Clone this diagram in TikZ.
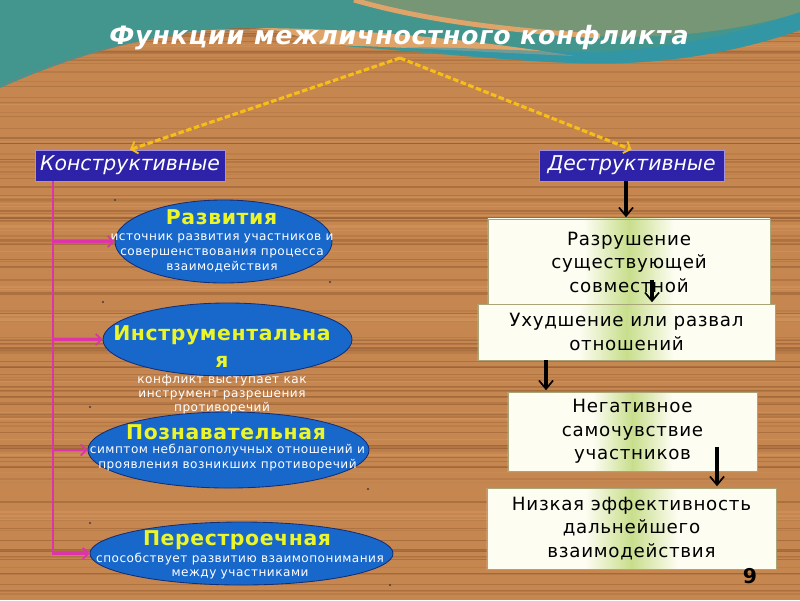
\documentclass[tikz,border=0pt]{standalone}
\usepackage{fontspec}
\setmainfont{DejaVu Sans}
\newfontfamily\spacedfont[LetterSpace=4]{DejaVu Sans}
\newfontfamily\titlefont[LetterSpace=3]{DejaVu Sans}
\usetikzlibrary{arrows.meta,shapes.geometric,shadows}

\definecolor{wood}{RGB}{198,134,80}
\definecolor{woodgrain}{RGB}{130,78,38}
\definecolor{woodlight}{RGB}{222,164,106}
\definecolor{sea}{RGB}{66,150,142}
\definecolor{seagrey}{RGB}{118,150,118}
\definecolor{seadeep}{RGB}{40,150,180}
\definecolor{headblue}{RGB}{46,34,168}
\definecolor{headrim}{RGB}{165,145,225}
\definecolor{ovalblue}{RGB}{24,104,204}
\definecolor{ovalrim}{RGB}{20,45,115}
\definecolor{ovaltitle}{RGB}{235,245,40}
\definecolor{pinkline}{RGB}{222,52,170}
\definecolor{dashyellow}{RGB}{245,190,25}
\definecolor{boxwhite}{RGB}{253,253,242}
\definecolor{boxgreen}{RGB}{200,222,140}
\definecolor{boxrim}{RGB}{170,165,120}

\pgfdeclarehorizontalshading{glow}{100bp}{color(0bp)=(boxwhite); color(25bp)=(boxwhite); color(42bp)=(boxwhite); color(50bp)=(boxgreen); color(58bp)=(boxwhite); color(75bp)=(boxwhite); color(100bp)=(boxwhite)}

\begin{document}
\begin{tikzpicture}[x=0.025cm, y=-0.025cm,
	head/.style={rectangle, fill=headblue, draw=headrim, line width=0.5pt, text=white, font=\itshape\fontsize{14.5}{17}\selectfont, minimum height=0.775cm, inner sep=0pt},
	oval/.style={ellipse, fill=ovalblue, draw=ovalrim, line width=0.6pt, inner sep=0pt},
	ovalname/.style={text=ovaltitle, font=\titlefont\bfseries\fontsize{14.5}{19.2}\selectfont, align=center, inner sep=0pt},
	ovaltext/.style={text=white, font=\spacedfont\fontsize{8.6}{10.7}\selectfont, align=center, inner sep=0pt},
	effect/.style={rectangle, shade, shading=glow, draw=boxrim, line width=0.5pt, drop shadow={opacity=0.25, shadow xshift=1pt, shadow yshift=-1pt}, align=center, font=\spacedfont\fontsize{13}{16.7}\selectfont, inner sep=0pt},
	hint/.style={dashyellow, line width=2.2pt, dash pattern=on 4pt off 1.8pt, -{Straight Barb[length=4pt,width=9pt,line width=1.3pt]}},
	branch/.style={pinkline, line width=2pt, -{Straight Barb[length=4pt,width=8pt,line width=1.2pt]}},
	chain/.style={black, line width=2.2pt, shorten >=1pt, -{Straight Barb[length=6pt,width=10pt,line width=1.2pt]}}]
	\useasboundingbox (0,0) rectangle (800,600);
	\fill[wood] (0,0) rectangle (800,600);
	\pgfmathsetseed{11}
	\foreach \i in {1,...,140} {
		\pgfmathsetmacro{\yy}{25+575*rnd}
		\pgfmathsetmacro{\ww}{0.3+1.3*rnd}
		\pgfmathsetmacro{\oo}{0.12+0.3*rnd}
		\draw[woodgrain, line width=\ww pt, opacity=\oo] (0,\yy) -- (800,\yy);
	}
	\foreach \i in {1,...,35} {
		\pgfmathsetmacro{\yy}{25+575*rnd}
		\pgfmathsetmacro{\ww}{0.5+1.5*rnd}
		\draw[woodlight, line width=\ww pt, opacity=0.3] (0,\yy) -- (800,\yy);
	}

	\fill[sea] (0,0) -- (800,0) -- (800,30) .. controls (730,55) and (650,66) .. (575,63) .. controls (480,59) and (400,50) .. (330,45) .. controls (300,40) and (290,29) .. (250,28) .. controls (170,28) and (80,52) .. (0,88) -- cycle;
	\fill[woodlight] (250,28) .. controls (340,28) and (450,36) .. (575,56) .. controls (480,52) and (400,47) .. (330,45) .. controls (300,40) and (290,29) .. (250,28);
	\fill[seadeep, opacity=0.6] (800,12) .. controls (720,40) and (650,52) .. (575,52) .. controls (500,50) and (440,46) .. (400,48) .. controls (470,55) and (520,62) .. (575,63) .. controls (650,66) and (730,55) .. (800,30) -- cycle;
	\fill[seagrey] (360,0) .. controls (420,18) and (500,30) .. (600,36) .. controls (680,40) and (760,26) .. (800,12) -- (800,0) -- cycle;
	\draw[woodlight, line width=3.5pt] (354,0) .. controls (416,18) and (496,30) .. (600,36);
	\draw[gray, line width=0.4pt] (0,86) .. controls (80,50) and (170,30) .. (250,30);

	\node[text=white, font=\titlefont\bfseries\itshape\fontsize{18}{20}\selectfont] (title) at (399,38) {Функции межличностного конфликта};
	\coordinate (apex) at (400,58);

	\node[head, minimum width=4.75cm] (constr) at (130,165.5) {Конструктивные};
	\node[head, minimum width=4.625cm] (destr) at (631.5,165.5) {Деструктивные};

	\draw[hint] (apex) -- (constr.north);
	\draw[hint] (apex) -- (destr.north);

	\node[oval, minimum width=5.425cm, minimum height=2.075cm] (dev) at (223.5,241.5) {};
	\node[oval, minimum width=6.225cm, minimum height=1.825cm] (instr) at (227.5,339.5) {};
	\node[oval, minimum width=7.025cm, minimum height=1.9cm] (cogn) at (228.5,450) {};
	\node[oval, minimum width=7.575cm, minimum height=1.575cm] (rebuild) at (241.5,553.5) {};

	\node[ovalname] (devname) at (221.5,217) {Развития};
	\node[ovaltext] (devtext) at (222,253) {источник развития участников и\\совершенствования процесса\\взаимодействия};
	\node[ovalname] (instrname) at (222,346.5) {Инструментальна\\я};
	\node[ovaltext, font=\spacedfont\fontsize{8.6}{10}\selectfont] (instrtext) at (222,394) {конфликт выступает как\\инструмент разрешения\\противоречий};
	\node[ovalname] (cognname) at (226,432) {Познавательная};
	\node[ovaltext] (cogntext) at (227.5,457.5) {симптом неблагополучных отношений и\\проявления возникших противоречий};
	\node[ovalname] (rebuildname) at (237,540) {Перестроечная};
	\node[ovaltext, font=\spacedfont\fontsize{8.6}{10}\selectfont] (rebuildtext) at (240,566) {способствует развитию взаимопонимания\\между участниками};

	\coordinate (trunk) at (53,181);
	\coordinate (trunkend) at (53,555);
	\draw[pinkline, line width=2pt] (trunk) -- (trunkend);
	\foreach \target in {dev,instr,cogn,rebuild}
		\draw[branch] (trunk |- \target.west) -- (\target.west);

	\node[effect, minimum width=7.05cm, minimum height=2.15cm] (ruin) at (629,262) {Разрушение\\существующей\\совместной};
	\node[effect, minimum width=7.425cm, minimum height=1.4cm] (decay) at (626.5,332) {Ухудшение или развал\\отношений};
	\node[effect, minimum width=6.225cm, minimum height=1.975cm] (mood) at (632.5,431.5) {Негативное\\самочувствие\\участников};
	\node[effect, minimum width=7.225cm, minimum height=2.025cm] (lowfx) at (631.5,528.5) {Низкая эффективность\\дальнейшего\\взаимодействия};

	\draw[chain] (destr.south -| 626,0) -- (ruin.north -| 626,0);
	\draw[chain] (ruin.south -| 652,0) ++(0,-25) -- (decay.north -| 652,0);
	\draw[chain] (decay.south -| 546,0) -- (mood.north -| 546,0);
	\draw[chain] (mood.south -| 717,0) ++(0,-24) -- (lowfx.north -| 717,0);

	\node[font=\bfseries\fontsize{14.5}{16}\selectfont] (pagenum) at (750,576) {9};

	\foreach \p in {(115,200),(330,282),(103,302),(90,407),(368,489),(90,523),(390,585)}
		\fill[black!75] \p circle (0.8pt);
\end{tikzpicture}
\end{document}
